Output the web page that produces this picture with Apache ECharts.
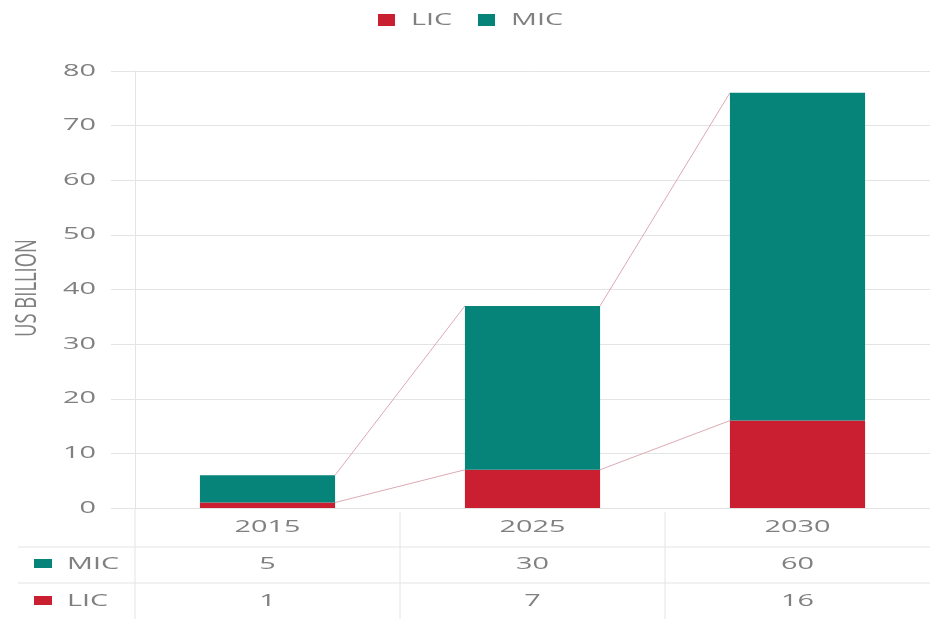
<!DOCTYPE html>
<html><head><meta charset="utf-8">
<script src="https://cdn.jsdelivr.net/npm/echarts@6/dist/echarts.min.js"></script>
<style>html,body{margin:0;padding:0;background:#fff}#c{width:930px;height:619px}</style>
</head><body><div id="c"></div>
<script>
const categories = ['2015', '2025', '2030'];
const licValues = [1, 7, 16];
const micValues = [5, 30, 60];
const yTicks = [0, 10, 20, 30, 40, 50, 60, 70, 80];
const seriesNames = ['LIC', 'MIC'];
const yAxisTitle = 'US BILLION';
const colors = { LIC: '#c91f30', MIC: '#07847a' };

const totals = categories.map((c, i) => licValues[i] + micValues[i]);
const connectorData = categories.slice(0, -1).map((c, i) => [i, licValues[i], licValues[i + 1], totals[i], totals[i + 1]]);
const BAR_FRAC = 0.51;

const chart = echarts.init(document.getElementById('c'));
const font = 'Open Sans';
const gray = '#808080';
const lineCol = '#e4e4e4';
const STRETCH = 1.8;

chart.setOption({
  animation: false,
  textStyle: { fontFamily: font },
  grid: { left: 135, right: 0, top: 71, bottom: 111 },
  xAxis: {
    type: 'category', data: categories,
    axisLine: { lineStyle: { color: lineCol } }, axisTick: { show: false },
    axisLabel: { show: false }
  },
  yAxis: {
    type: 'value', min: yTicks[0], max: yTicks[yTicks.length - 1], interval: yTicks[1] - yTicks[0],
    axisLine: { show: true, lineStyle: { color: lineCol } },
    axisTick: { show: true, length: 24, lineStyle: { color: lineCol } },
    axisLabel: { show: false },
    splitLine: { lineStyle: { color: lineCol } }
  },
  series: [
    { name: 'LIC', type: 'bar', stack: 's', data: licValues, barWidth: (BAR_FRAC * 100) + '%',
      itemStyle: { color: colors.LIC } },
    { name: 'MIC', type: 'bar', stack: 's', data: micValues, barWidth: (BAR_FRAC * 100) + '%',
      itemStyle: { color: colors.MIC } },
    { type: 'custom', data: connectorData, silent: true, z: 1,
      encode: { x: 0, y: [1, 2, 3, 4] },
      renderItem: function (params, api) {
        const i = api.value(0);
        const half = api.size([1, 0])[0] * BAR_FRAC / 2;
        const mk = (a, b) => {
          const p1 = api.coord([i, a]);
          const p2 = api.coord([i + 1, b]);
          return { type: 'line', shape: { x1: p1[0] + half, y1: p1[1], x2: p2[0] - half, y2: p2[1] },
                   style: { stroke: '#dcaab2', lineWidth: 1 } };
        };
        return { type: 'group', children: [mk(api.value(1), api.value(2)), mk(api.value(3), api.value(4))] };
      } }
  ]
});

// stretched text labels (the reference text is horizontally widened), placed via the chart's own scales
function txt(x, y, s, align, extra) {
  return Object.assign({
    type: 'text', x: x, y: y, scaleX: STRETCH, silent: true,
    style: { text: s, fill: gray, fontSize: 16, fontFamily: font,
             align: align, textAlign: align, verticalAlign: 'middle', textVerticalAlign: 'middle' }
  }, extra || {});
}
const g = [];
yTicks.forEach(v => {
  const y = chart.convertToPixel({ yAxisIndex: 0 }, v);
  g.push(txt(96, y, String(v), 'right'));
});
categories.forEach((c, i) => {
  const x = chart.convertToPixel({ xAxisIndex: 0 }, c);
  g.push(txt(x, 527, c, 'center'));
  g.push(txt(x, 564, String(micValues[i]), 'center'));
  g.push(txt(x, 601, String(licValues[i]), 'center'));
});
// y axis title
g.push({ type: 'text', x: 28, y: 288, rotation: Math.PI / 2, scaleX: 1.15, scaleY: STRETCH, silent: true,
  style: { text: yAxisTitle, fill: gray, fontSize: 16, fontFamily: font,
           align: 'center', textAlign: 'center', verticalAlign: 'middle', textVerticalAlign: 'middle' } });
// legend
const legendPos = [[378, 411], [478, 511]];
seriesNames.forEach((n, k) => {
  g.push({ type: 'rect', shape: { x: legendPos[k][0], y: 14, width: 17, height: 12 }, style: { fill: colors[n] } });
  g.push(txt(legendPos[k][1], 20, n, 'left'));
});
// data table lines and row headers
g.push({ type: 'line', shape: { x1: 18, y1: 547, x2: 930, y2: 547 }, style: { stroke: lineCol } });
g.push({ type: 'line', shape: { x1: 18, y1: 583, x2: 930, y2: 583 }, style: { stroke: lineCol } });
g.push({ type: 'line', shape: { x1: 135, y1: 508, x2: 135, y2: 619 }, style: { stroke: lineCol } });
g.push({ type: 'line', shape: { x1: 400, y1: 512, x2: 400, y2: 619 }, style: { stroke: lineCol } });
g.push({ type: 'line', shape: { x1: 665, y1: 512, x2: 665, y2: 619 }, style: { stroke: lineCol } });
const rowHeaders = [['MIC', 564], ['LIC', 601]];
rowHeaders.forEach(([n, y]) => {
  g.push({ type: 'rect', shape: { x: 34, y: y - 5, width: 18, height: 9 }, style: { fill: colors[n] } });
  g.push(txt(67, y, n, 'left'));
});
chart.setOption({ graphic: g });
</script></body></html>
